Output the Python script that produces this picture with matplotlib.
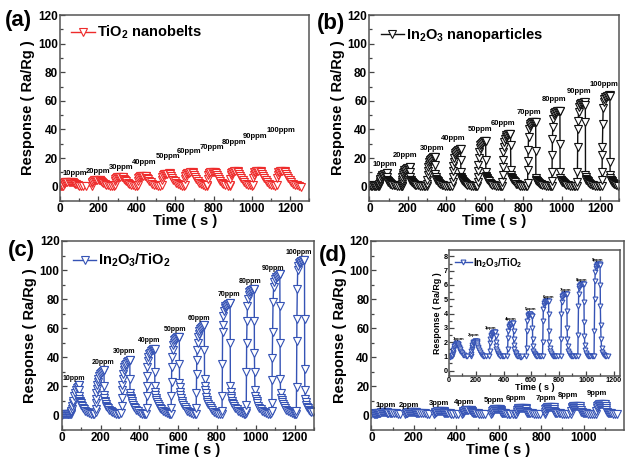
import matplotlib
matplotlib.use("Agg")
import matplotlib.pyplot as plt
from matplotlib.ticker import MultipleLocator

plt.rcParams['font.family'] = ['Liberation Sans', 'DejaVu Sans']
plt.rcParams['font.weight'] = 'bold'
plt.rcParams['axes.labelweight'] = 'bold'
plt.rcParams['mathtext.fontset'] = 'custom'
plt.rcParams['mathtext.rm'] = 'Liberation Sans:bold'
plt.rcParams['mathtext.default'] = 'rm'

RED = '#ee2b2b'
BLACK = '#111111'
BLUE = '#3553b5'

# ---------------- (a) TiO2 nanobelts ----------------
a_lead_t = [0, 5, 10]
a_lead_v = [0.4, 0.3, 0.4]
a_onsets = [17, 165, 285, 405, 530, 650, 768, 885, 1005, 1130]
a_rel = [0, 2, 4, 7, 11, 16, 22, 29, 36, 42, 45, 49, 54, 60, 67, 75, 84, 94, 105, 116]
a_pulses = [
    [0.6, 1.9, 2.8, 3.2, 3.4, 3.5, 3.5, 3.6, 3.6, 3.6, 3.4, 3.0, 2.5, 2.0, 1.6, 1.2, 0.8, 0.6, 0.5, 0.4],
    [0.7, 2.5, 3.6, 4.2, 4.4, 4.5, 4.6, 4.6, 4.7, 4.7, 4.4, 3.8, 3.2, 2.6, 2.0, 1.4, 1.0, 0.7, 0.5, 0.4],
    [1.0, 3.7, 5.4, 6.3, 6.6, 6.8, 6.9, 7.0, 7.1, 7.1, 6.6, 5.7, 4.8, 3.8, 2.9, 2.1, 1.4, 0.9, 0.6, 0.5],
    [1.0, 4.0, 5.9, 6.9, 7.3, 7.5, 7.6, 7.7, 7.8, 7.8, 7.3, 6.3, 5.2, 4.2, 3.1, 2.2, 1.5, 1.0, 0.7, 0.5],
    [1.2, 4.8, 7.0, 8.2, 8.7, 9.0, 9.1, 9.2, 9.3, 9.3, 8.7, 7.5, 6.2, 5.0, 3.7, 2.6, 1.7, 1.1, 0.8, 0.6],
    [1.3, 5.2, 7.6, 8.9, 9.4, 9.7, 9.9, 10.0, 10.1, 10.1, 9.4, 8.1, 6.8, 5.4, 4.0, 2.8, 1.8, 1.2, 0.8, 0.6],
    [1.3, 5.4, 8.0, 9.4, 9.9, 10.2, 10.4, 10.5, 10.6, 10.6, 9.9, 8.5, 7.1, 5.7, 4.2, 2.9, 1.9, 1.2, 0.8, 0.6],
    [1.4, 5.6, 8.3, 9.7, 10.3, 10.6, 10.8, 10.9, 11.0, 11.0, 10.3, 8.9, 7.4, 5.9, 4.4, 3.1, 2.0, 1.3, 0.9, 0.6],
    [1.4, 5.8, 8.5, 10.0, 10.5, 10.9, 11.1, 11.2, 11.3, 11.3, 10.5, 9.1, 7.6, 6.0, 4.5, 3.2, 2.0, 1.3, 0.9, 0.6],
    [1.4, 5.8, 8.5, 10.0, 10.5, 10.9, 11.1, 11.2, 11.3, 11.3, 10.5, 9.1, 7.6, 6.0, 4.5, 3.2, 2.0, 1.3, 0.9, 0.6],
]
a_tail_t = [1255]
a_tail_v = [0.0]
a_lab_x = [78, 199, 320, 438, 563, 675, 791, 906, 1018, 1151]
a_lab_y = [9.3, 10.5, 13.7, 17.2, 21.4, 24.3, 27.7, 31.2, 35.0, 39.2]

# ---------------- (b) In2O3 nanoparticles ----------------
bc_rel = [0, 1, 2, 3, 4, 6, 8, 11, 14, 18, 22, 27, 32, 37, 42, 43, 43.5, 44, 45, 47,
          49, 52, 55, 59, 64, 70, 77, 85, 95, 105, 115, 122]
b_lead_t = [0, 5, 10, 15, 20, 25, 30, 35, 40, 45]
b_lead_v = [0.8, 0.9, 0.7, 0.8, 0.9, 0.8, 0.7, 0.8, 0.9, 0.8]
b_onsets = [50, 168, 300, 432, 562, 691, 822, 948, 1080, 1208]
b_pulses = [
    [0.8, 1.5, 2, 2.8, 3.5, 4.5, 5.5, 6.5, 7.3, 8, 8.5, 8.8, 9, 9.2, 9.3, 9.3, 7, 5, 4.2, 3.8, 3.5, 3, 2.6, 2.2, 1.8, 1.4, 1.1, 0.9, 0.7, 0.6, 0.5, 0.5],
    [0.8, 2, 3.5, 5, 6.5, 8, 9.5, 10.5, 11.5, 12, 12.5, 13, 13.2, 13.4, 13.5, 13.5, 10, 7, 5, 4.5, 4, 3.5, 3, 2.5, 2, 1.5, 1.2, 0.9, 0.7, 0.6, 0.5, 0.5],
    [0.8, 2, 5, 8, 11, 13.5, 15.5, 17, 18, 19, 19.5, 20, 20.5, 20.8, 21, 21, 15, 9, 6.5, 5.5, 5, 4.5, 4, 3.2, 2.5, 1.8, 1.3, 1, 0.8, 0.6, 0.5, 0.5],
    [0.8, 3, 7, 11, 14.5, 17.5, 20, 22, 23.5, 24.5, 25, 25.5, 26, 26.3, 26.5, 26.5, 19, 10, 7, 6, 5.5, 5, 4.3, 3.5, 2.7, 2, 1.4, 1, 0.8, 0.6, 0.5, 0.5],
    [0.8, 3, 7, 11, 15.5, 20, 24, 27, 29, 30, 30.8, 31.3, 31.6, 31.8, 32, 32, 19, 10, 7.5, 6.5, 6, 5.3, 4.5, 3.7, 2.8, 2, 1.5, 1.1, 0.8, 0.6, 0.5, 0.5],
    [0.8, 3, 8, 14, 19, 24, 28, 31, 33.5, 35, 35.8, 36.3, 36.6, 36.8, 37, 37, 29, 12, 8, 7, 6.3, 5.5, 4.7, 3.8, 3, 2.2, 1.6, 1.1, 0.8, 0.6, 0.5, 0.5],
    [0.8, 2.5, 12, 18, 26, 35, 40, 42.5, 44, 44.7, 45, 45.2, 45.3, 45.4, 45.5, 45.5, 25, 6, 5, 4.5, 4.2, 3.8, 3.3, 2.8, 2.2, 1.7, 1.3, 1, 0.8, 0.6, 0.5, 0.5],
    [0.8, 4, 10, 22, 33, 42, 47, 50, 51.5, 52.2, 52.5, 52.7, 52.8, 52.9, 53, 53, 30, 10, 6, 5, 4.5, 4, 3.5, 3, 2.4, 1.8, 1.3, 1, 0.8, 0.6, 0.5, 0.5],
    [0.8, 3.5, 10, 28, 40, 46, 52, 55.5, 57, 58, 58.4, 58.6, 58.8, 58.9, 59, 57, 45, 8, 6.5, 5.5, 5, 4.5, 3.8, 3.2, 2.5, 1.9, 1.4, 1, 0.8, 0.6, 0.5, 0.5],
    [0.8, 5, 10, 22, 28, 44, 55, 59, 61.5, 62.5, 63, 63.3, 63.6, 63.8, 64, 63.5, 17, 8, 6, 5, 4.5, 4, 3.3, 2.7, 2.1, 1.6, 1.2, 0.8],
]
b_lab_x = [83, 187, 326, 436, 575, 696, 830, 960, 1090, 1219]
b_lab_y = [15.6, 21.5, 26.9, 33.6, 39.7, 44.4, 51.9, 61.2, 66.6, 71.7]

# ---------------- (c) In2O3/TiO2 ----------------
c_lead_t = [0, 5, 10, 15, 20, 25, 30, 35, 40]
c_lead_v = [0.3, 0.5, 0.4, 0.6, 0.5, 0.4, 0.6, 0.5, 0.5]
c_onsets = [45, 175, 308, 436, 563, 692, 825, 949, 1081, 1208]
c_pulses = [
    [0.5, 1, 1.5, 2, 3, 4, 6, 8, 10, 13, 15.5, 17.5, 18.5, 19.5, 20.5, 21, 17, 13, 11, 10, 9, 8, 7, 6, 5, 4, 3, 2.2, 1.5, 1, 0.7, 0.5],
    [2, 4, 8, 11, 15, 18, 21, 23, 25, 27, 28, 29, 30, 30.5, 31, 31, 20, 14, 12, 10, 9, 7.5, 6.5, 5.5, 4.5, 3.5, 2.5, 1.8, 1.2, 0.8, 0.5, 0.4],
    [1.5, 6, 12, 17, 21, 25, 28, 31, 33, 34.5, 35.5, 36.5, 37, 37.5, 38, 38, 25, 15, 13, 12, 11, 9.5, 8, 7, 5.5, 4.5, 3.5, 2.5, 1.5, 1, 0.6, 0.4],
    [1, 5, 13, 20, 27, 33, 37, 40, 42, 43, 44, 44.5, 45, 45.5, 45.5, 45.5, 30, 20, 16, 14, 12, 10.5, 9, 7.5, 6, 5, 4, 3, 2, 1.2, 0.7, 0.5],
    [1, 5, 13, 23, 33, 40, 45, 48, 50, 51.5, 52.5, 53, 53.5, 54, 54, 54, 35, 22, 19, 16, 14, 12, 10, 8.5, 7, 5.5, 4, 3, 2, 1.3, 0.8, 0.5],
    [1, 5, 15, 28, 38, 45, 50, 54, 56, 58, 59, 60, 61, 61.5, 62, 62, 45, 25, 20, 17, 15, 12.5, 10.5, 9, 7.5, 6, 4.5, 3.2, 2.2, 1.4, 0.8, 0.5],
    [1, 3, 13, 35, 57, 62, 68, 72, 74, 75, 75.5, 76, 76.5, 76.5, 77, 77, 50, 20, 16, 13, 12, 10, 8.5, 7.5, 6, 5, 4, 3, 2, 1.3, 0.8, 0.5],
    [1.5, 3, 7, 30, 50, 65, 75, 80, 83, 84.5, 85.5, 86, 86.5, 87, 87, 87, 65, 43, 30, 17, 13, 11, 9.5, 8, 6.5, 5, 4, 3, 2, 1.3, 0.8, 0.5],
    [1.5, 2.5, 8, 24, 39, 57, 78, 88, 92, 94, 95, 95.5, 96, 96.5, 97, 97, 75, 50, 25, 15, 12, 10.5, 9, 7.5, 6, 4.5, 3.5, 2.5, 1.8, 1.2, 0.8, 0.5],
    [1, 3, 19, 51, 66, 87, 100, 103, 104.5, 105, 105.5, 106, 106.5, 107, 107, 107, 66, 32, 17, 11, 9, 7, 5.5, 4.5, 3.5, 2.5, 2, 2],
]
c_lab_x = [63, 214, 320, 453, 586, 706, 863, 969, 1091, 1219]
c_lab_y = [25.4, 36.2, 43.6, 51.2, 59.3, 66.7, 83.3, 92.3, 101.3, 112.1]

# ---------------- (d) In2O3/TiO2, 1-9 ppm ----------------
d_lead_t = [0, 5, 10, 15, 20]
d_lead_v = [1.0, 1.05, 0.98, 1.0, 1.02]
d_onsets = [25, 160, 296, 427, 565, 683, 816, 940, 1058]
d_rel = [0, 2, 4, 6, 9, 12, 16, 20, 25, 30, 35, 40, 44, 45, 46, 48, 51, 55, 60, 66, 73, 81, 90, 100, 110]
d_pulses = [
    [1.0, 1.1, 1.2, 1.3, 1.45, 1.6, 1.72, 1.82, 1.88, 1.9, 1.9, 1.88, 1.85, 1.8, 1.75, 1.68, 1.6, 1.5, 1.4, 1.3, 1.2, 1.12, 1.06, 1.02, 1.0],
    [1.0, 1.15, 1.35, 1.5, 1.65, 1.8, 1.9, 1.98, 2.03, 2.07, 2.1, 2.1, 2.08, 2.0, 1.9, 1.8, 1.68, 1.55, 1.42, 1.3, 1.18, 1.1, 1.05, 1.02, 1.0],
    [1.0, 1.4, 1.9, 2.2, 2.4, 2.5, 2.58, 2.63, 2.66, 2.68, 2.7, 2.7, 2.7, 2.4, 2.0, 1.7, 1.5, 1.35, 1.25, 1.15, 1.08, 1.04, 1.02, 1.0, 1.0],
    [1.0, 1.5, 2.3, 2.8, 3.05, 3.15, 3.2, 3.23, 3.26, 3.28, 3.3, 3.3, 3.3, 2.8, 2.2, 1.8, 1.5, 1.3, 1.2, 1.1, 1.05, 1.0, 0.98, 0.98, 1.0],
    [1.0, 1.6, 2.8, 3.5, 3.8, 3.9, 3.95, 4.0, 4.0, 3.95, 3.9, 3.85, 3.8, 3.0, 2.2, 1.7, 1.4, 1.25, 1.15, 1.08, 1.03, 1.0, 1.0, 1.0, 1.0],
    [1.0, 2.0, 3.5, 4.3, 4.6, 4.75, 4.8, 4.85, 4.88, 4.9, 4.9, 4.9, 4.9, 4.0, 2.8, 2.0, 1.6, 1.35, 1.2, 1.1, 1.05, 1.0, 1.0, 1.0, 1.0],
    [1.0, 2.2, 4.0, 4.8, 5.1, 5.25, 5.3, 5.35, 5.38, 5.4, 5.4, 5.4, 5.35, 4.2, 3.0, 2.2, 1.7, 1.4, 1.2, 1.1, 1.05, 1.0, 1.0, 1.0, 1.0],
    [1.0, 2.5, 4.5, 5.4, 5.8, 5.95, 6.0, 6.05, 6.08, 6.1, 6.1, 6.1, 6.05, 4.8, 3.4, 2.4, 1.8, 1.45, 1.25, 1.12, 1.05, 1.0, 1.0, 1.0, 1.0],
    [1.0, 2.8, 5.0, 6.3, 6.9, 7.2, 7.35, 7.42, 7.46, 7.5, 7.5, 7.45, 7.4, 6.0, 4.5, 3.2, 2.2, 1.6, 1.3, 1.15, 1.08, 1.04, 1.02, 1.0],
]
d_lab_x = [69, 178, 319, 436, 577, 681, 823, 928, 1061]
d_lab_y = [6.9, 6.9, 8.1, 8.6, 9.7, 11.3, 11.6, 13.2, 15.0]
ins_lab_x = [69, 184, 308, 451, 594, 726, 852, 964, 1084]
ins_lab_y = [2.23, 2.47, 2.95, 3.6, 4.33, 5.14, 5.65, 6.34, 7.76]

ppm10 = ['10ppm', '20ppm', '30ppm', '40ppm', '50ppm', '60ppm', '70ppm', '80ppm', '90ppm', '100ppm']
ppm1 = ['1ppm', '2ppm', '3ppm', '4ppm', '5ppm', '6ppm', '7ppm', '8ppm', '9ppm']


def build(lead_t, lead_v, onsets, rel, pulses, tail_t=(), tail_v=()):
    t, v = list(lead_t), list(lead_v)
    for on, vals in zip(onsets, pulses):
        for dt, y in zip(rel, vals):
            t.append(on + dt)
            v.append(y)
    t += list(tail_t)
    v += list(tail_v)
    return t, v


def style_axes(ax, xmax, ymin=-10, ymax=120, fs=8.5, pad=1.5):
    ax.set_xlim(0, xmax)
    ax.set_ylim(ymin, ymax)
    for s in ax.spines.values():
        s.set_color('#555555')
        s.set_linewidth(1.1)
    ax.tick_params(which='both', direction='in', top=False, right=False,
                   labelsize=fs, width=0.9, color='#444444', pad=pad)
    ax.tick_params(which='major', length=3.5)
    ax.tick_params(which='minor', length=2)
    for lab in ax.get_xticklabels() + ax.get_yticklabels():
        lab.set_fontweight('bold')


def main_ticks(ax):
    ax.set_xticks(range(0, 1201, 200))
    ax.xaxis.set_minor_locator(MultipleLocator(100))
    ax.set_yticks(range(0, 121, 20))
    ax.yaxis.set_minor_locator(MultipleLocator(10))
    ax.set_xlabel('Time ( s )', fontsize=10.5, fontweight='bold', labelpad=-0.5)
    ax.set_ylabel('Response ( Ra/Rg )', fontsize=10.5, fontweight='bold', labelpad=2)


def trace(ax, t, v, color, label, ms=5.3):
    ax.plot(t, v, '-v', color=color, lw=1.0, ms=ms, mfc='white', mec=color,
            mew=0.8, label=label)


def add_legend(ax, anchor, fs=10.5, hl=1.6):
    ax.legend(loc='upper left', frameon=False, numpoints=1, handlelength=hl,
              handletextpad=0.15, borderaxespad=0.2, bbox_to_anchor=anchor,
              prop={'size': fs, 'weight': 'bold'})


fig = plt.figure(figsize=(6.36, 4.58), dpi=100)
fig.patch.set_facecolor('white')

# (a)
ax = fig.add_axes([0.0943, 0.5611, 0.3923, 0.4061])
t, v = build(a_lead_t, a_lead_v, a_onsets, a_rel, a_pulses, a_tail_t, a_tail_v)
trace(ax, t, v, RED, r'TiO$_2$ nanobelts')
for s, x, y in zip(ppm10, a_lab_x, a_lab_y):
    ax.text(x, y, s, fontsize=5.5, fontweight='bold', ha='center', va='center')
main_ticks(ax)
style_axes(ax, 1300)
add_legend(ax, (0.01, 1.0))
fig.text(0.008, 0.955, '(a)', fontsize=16, fontweight='bold', ha='left', va='center')

# (b)
ax = fig.add_axes([0.5807, 0.5611, 0.3931, 0.4061])
t, v = build(b_lead_t, b_lead_v, b_onsets, bc_rel, b_pulses)
trace(ax, t, v, BLACK, r'In$_2$O$_3$ nanoparticles')
for s, x, y in zip(ppm10, b_lab_x, b_lab_y):
    ax.text(x, y, s, fontsize=5.5, fontweight='bold', ha='center', va='center')
main_ticks(ax)
style_axes(ax, 1300)
add_legend(ax, (0.01, 0.99))
fig.text(0.499, 0.948, '(b)', fontsize=16, fontweight='bold', ha='left', va='center')

# (c)
ax = fig.add_axes([0.0970, 0.0622, 0.3967, 0.4116])
t, v = build(c_lead_t, c_lead_v, c_onsets, bc_rel, c_pulses)
trace(ax, t, v, BLUE, r'In$_2$O$_3$/TiO$_2$')
for s, x, y in zip(ppm10, c_lab_x, c_lab_y):
    ax.text(x, y, s, fontsize=5, fontweight='bold', ha='center', va='center')
main_ticks(ax)
style_axes(ax, 1300)
add_legend(ax, (0.01, 0.99))
fig.text(0.012, 0.454, '(c)', fontsize=16, fontweight='bold', ha='left', va='center')

# (d)
ax = fig.add_axes([0.5841, 0.0622, 0.397, 0.4116])
t, v = build(d_lead_t, d_lead_v, d_onsets, d_rel, d_pulses)
trace(ax, t, v, BLUE, None)
for s, x, y in zip(ppm1, d_lab_x, d_lab_y):
    ax.text(x, y, s, fontsize=5.5, fontweight='bold', ha='center', va='center')
main_ticks(ax)
style_axes(ax, 1190)
fig.text(0.502, 0.443, '(d)', fontsize=16, fontweight='bold', ha='left', va='center')

# inset of (d)
axi = fig.add_axes([0.7055, 0.1800, 0.2700, 0.2741])
trace(axi, t, v, BLUE, r'In$_2$O$_3$/TiO$_2$', ms=3.5)
for s, x, y in zip(ppm1, ins_lab_x, ins_lab_y):
    axi.text(x, y, s, fontsize=3.2, fontweight='bold', ha='center', va='center')
axi.set_xticks(range(0, 1201, 200))
axi.xaxis.set_minor_locator(MultipleLocator(100))
axi.set_yticks(range(0, 9))
axi.yaxis.set_minor_locator(MultipleLocator(0.5))
axi.set_xlabel('Time ( s )', fontsize=6.5, fontweight='bold', labelpad=-0.8)
axi.set_ylabel('Response ( Ra/Rg )', fontsize=6.4, fontweight='bold', labelpad=1)
style_axes(axi, 1250, -0.35, 8.45, fs=5.2, pad=0.8)
add_legend(axi, (0.0, 1.0), fs=7, hl=1.8)

fig.savefig('out.png', dpi=100, facecolor='white')
